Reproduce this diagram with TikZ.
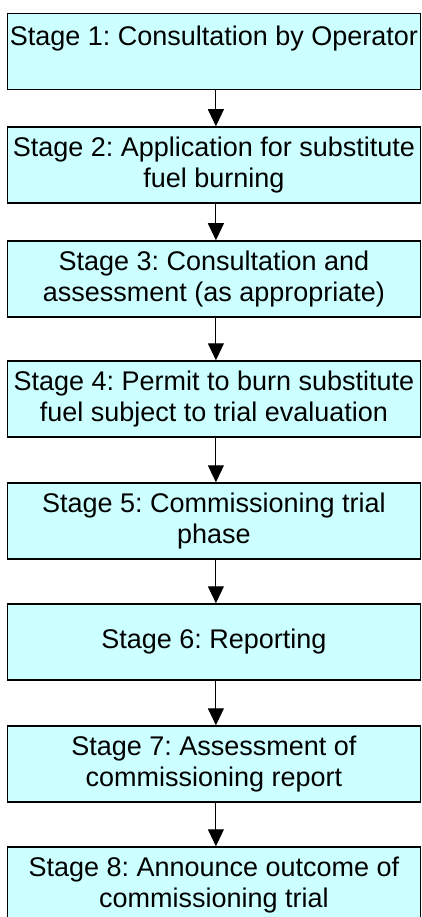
\documentclass[tikz,border=0pt]{standalone}
\usepackage{fontspec}
\setmainfont{Liberation Sans}
\usetikzlibrary{arrows.meta}
\definecolor{boxcyan}{RGB}{204,255,255}
\frenchspacing
\begin{document}
\begin{tikzpicture}[x=1pt,y=-1pt,
  stagebox/.style={draw=black, line width=1.5pt, fill=boxcyan, minimum width=413pt,
    minimum height=76pt, inner sep=0pt, align=center,
    font=\fontsize{27}{31}\selectfont\frenchspacing},
  flow/.style={line width=1pt, -{Triangle[width=16pt,length=17pt]}}]
\useasboundingbox (0,0) rectangle (421,917);
\clip (0,0) rectangle (421,917);
\node[stagebox] (s1) at (213.9,51.5) {Stage 1: Consultation by Operator\\\mbox{}};
\node[stagebox] (s2) at (213.9,165) {Stage 2: Application for substitute\\fuel burning};
\node[stagebox] (s3) at (213.9,279) {Stage 3: Consultation and\\assessment (as appropriate)};
\node[stagebox] (s4) at (213.9,399) {Stage 4: Permit to burn substitute\\fuel subject to trial evaluation};
\node[stagebox] (s5) at (213.9,521) {Stage 5: Commissioning trial\\phase};
\node[stagebox] (s6) at (213.9,642) {Stage 6: Reporting};
\node[stagebox] (s7) at (213.9,764) {Stage 7: Assessment of\\commissioning report};
\node[stagebox] (s8) at (213.9,885) {Stage 8: Announce outcome of\\commissioning trial};
\foreach \a/\b in {s1/s2,s2/s3,s3/s4,s4/s5,s5/s6,s6/s7,s7/s8}
  \draw[flow] ([xshift=2pt]\a.south) -- ([xshift=2pt]\b.north);
\end{tikzpicture}
\end{document}
